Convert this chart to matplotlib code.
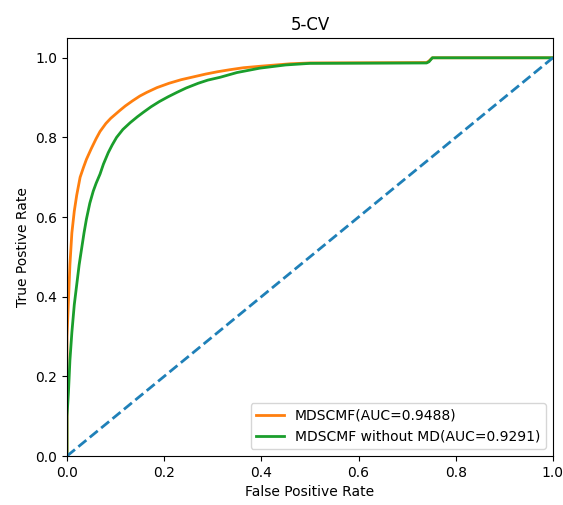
import numpy as np
import matplotlib.pyplot as plt

# ROC points
fpr_full = [0, 0, 0.003, 0.006, 0.01, 0.015, 0.02, 0.027, 0.034, 0.04, 0.05, 0.06, 0.068, 0.08,
            0.09, 0.109, 0.12, 0.135, 0.15, 0.164, 0.185, 0.21, 0.235, 0.26, 0.285, 0.31,
            0.335, 0.363, 0.4, 0.43, 0.46, 0.5, 0.74, 0.745, 0.752, 1.0]
tpr_full = [0, 0.30, 0.39, 0.48, 0.56, 0.615, 0.655, 0.70, 0.725, 0.745, 0.772, 0.797, 0.815, 0.835,
            0.848, 0.868, 0.879, 0.892, 0.904, 0.913, 0.925, 0.936, 0.945, 0.952, 0.959, 0.965,
            0.970, 0.975, 0.979, 0.982, 0.985, 0.987, 0.988, 0.992, 1.0, 1.0]

fpr_nomd = [0, 0, 0.003, 0.006, 0.01, 0.015, 0.02, 0.025, 0.03, 0.035, 0.04, 0.047, 0.054, 0.06,
            0.068, 0.075, 0.085, 0.093, 0.102, 0.115, 0.13, 0.145, 0.157, 0.173, 0.19, 0.208,
            0.226, 0.245, 0.27, 0.29, 0.315, 0.35, 0.397, 0.45, 0.5, 0.74, 0.745, 0.752, 1.0]
tpr_nomd = [0, 0.10, 0.16, 0.24, 0.31, 0.38, 0.43, 0.48, 0.52, 0.56, 0.595, 0.635, 0.665, 0.685,
            0.708, 0.733, 0.762, 0.781, 0.80, 0.82, 0.837, 0.852, 0.863, 0.877, 0.89, 0.902,
            0.913, 0.924, 0.936, 0.944, 0.951, 0.963, 0.974, 0.982, 0.986, 0.987, 0.99, 1.0, 1.0]

labels = ["MDSCMF(AUC=0.9488)", "MDSCMF without MD(AUC=0.9291)"]

fig = plt.figure(figsize=(5.63, 5.05), dpi=100)
ax = fig.add_axes([0.119, 0.097, 0.863, 0.828])

ax.plot(fpr_full, tpr_full, color="#ff7f0e", lw=2, label=labels[0])
ax.plot(fpr_nomd, tpr_nomd, color="#1a9e2c", lw=2, label=labels[1])
ax.plot([0, 1], [0, 1], color="#1f80b8", lw=2, linestyle="--")

ax.set_xlim(0, 1)
ax.set_ylim(0, 1.05)
ax.set_title("5-CV")
ax.set_xlabel("False Positive Rate")
ax.set_ylabel("True Postive Rate")
ax.legend(loc="lower right")

fig.savefig("out.png")
